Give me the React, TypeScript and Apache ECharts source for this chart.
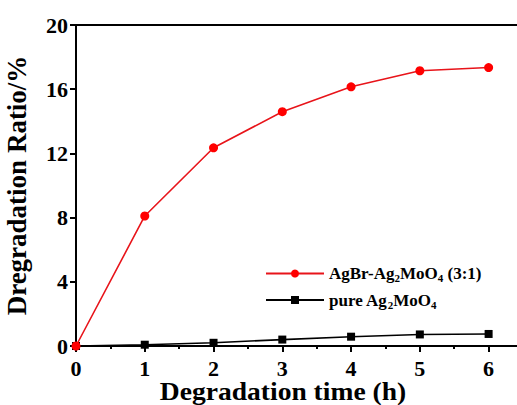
import React, { useEffect, useRef } from "react";
import * as echarts from "echarts";

const hours = [0, 1, 2, 3, 4, 5, 6];
const composite = [0, 8.1, 12.35, 14.6, 16.15, 17.15, 17.35];
const pure = [0, 0.08, 0.2, 0.4, 0.58, 0.72, 0.75];
const yTicks = [0, 4, 8, 12, 16, 20];
const xName = "Degradation time (h)";
const yName = "Dregradation Ratio/%";

const FONT = "Liberation Serif";

export default function App() {
  const ref = useRef<HTMLDivElement>(null);
  useEffect(() => {
    if (!ref.current) return;
    const chart = echarts.init(ref.current, null, { renderer: "svg" });
    chart.setOption({
      animation: false,
      backgroundColor: "#ffffff",
      grid: {
        left: 76,
        top: 25,
        bottom: 59,
        right: -6,
        outerBoundsMode: "none",
        containLabel: false,
        show: true,
        borderColor: "#000",
        borderWidth: 2,
      },
      legend: {
        orient: "vertical",
        left: 260,
        top: 260,
        itemWidth: 58,
        itemHeight: 10,
        itemGap: 8,
        textStyle: {
          fontFamily: FONT,
          fontWeight: "bold",
          fontSize: 17,
          color: "#000",
          rich: {
            a: { fontFamily: FONT, fontWeight: "bold", fontSize: 17, color: "#000" },
            s: {
              fontFamily: FONT,
              fontWeight: "bold",
              fontSize: 11,
              color: "#000",
              padding: [9, 0, 0, 0],
            },
          },
        },
        formatter: (name: string) =>
          name === "composite"
            ? "{a|AgBr-Ag}{s|2}{a|MoO}{s|4}{a| (3:1)}"
            : "{a|pure Ag}{s|2}{a|MoO}{s|4}",
        data: ["composite", "pure"],
      },
      graphic: [
        {
          type: "text",
          x: 283,
          y: 391,
          scaleX: 1.06,
          style: {
            text: xName,
            fontFamily: FONT,
            fontWeight: "bold",
            fontSize: 26,
            fill: "#000",
            textAlign: "center",
            textVerticalAlign: "middle",
          },
        },
      ],
      xAxis: {
        type: "value",
        min: 0,
        max: 6.5,
        interval: 1,
        axisLine: { lineStyle: { color: "#000", width: 2 } },
        axisTick: { show: true, inside: false, length: 6, lineStyle: { color: "#000", width: 2 } },
        minorTick: { show: true, splitNumber: 2, length: 3, lineStyle: { color: "#000", width: 2 } },
        axisLabel: {
          fontFamily: FONT,
          fontWeight: "bold",
          fontSize: 22,
          color: "#000",
          margin: 11,
          formatter: (v: number) => (hours.includes(v) ? String(v) : ""),
        },
        splitLine: { show: false },
      },
      yAxis: {
        type: "value",
        min: yTicks[0],
        max: yTicks[yTicks.length - 1],
        interval: 4,
        name: yName,
        nameLocation: "middle",
        nameGap: 46,
        nameTextStyle: { fontFamily: FONT, fontWeight: "bold", fontSize: 27, color: "#000" },
        axisLine: { show: true, lineStyle: { color: "#000", width: 2 } },
        axisTick: { show: true, inside: false, length: 6, lineStyle: { color: "#000", width: 2 } },
        axisLabel: { fontFamily: FONT, fontWeight: "bold", fontSize: 22, color: "#000", margin: 8 },
        splitLine: { show: false },
      },
      series: [
        {
          name: "composite",
          type: "line",
          data: hours.map((h, i) => [h, composite[i]]),
          symbol: "circle",
          symbolSize: 9,
          itemStyle: { color: "#ff0000" },
          lineStyle: { color: "#e8141a", width: 1.6 },
          z: 3,
        },
        {
          name: "pure",
          type: "line",
          data: hours.map((h, i) => [h, pure[i]]),
          symbol: "rect",
          symbolSize: 8,
          itemStyle: { color: "#000" },
          lineStyle: { color: "#000", width: 1.6 },
          z: 2,
        },
      ],
    });
    return () => chart.dispose();
  }, []);
  return (
    <div
      ref={ref}
      style={{ position: "fixed", left: 0, top: 0, width: 517, height: 405, background: "#fff" }}
    />
  );
}
